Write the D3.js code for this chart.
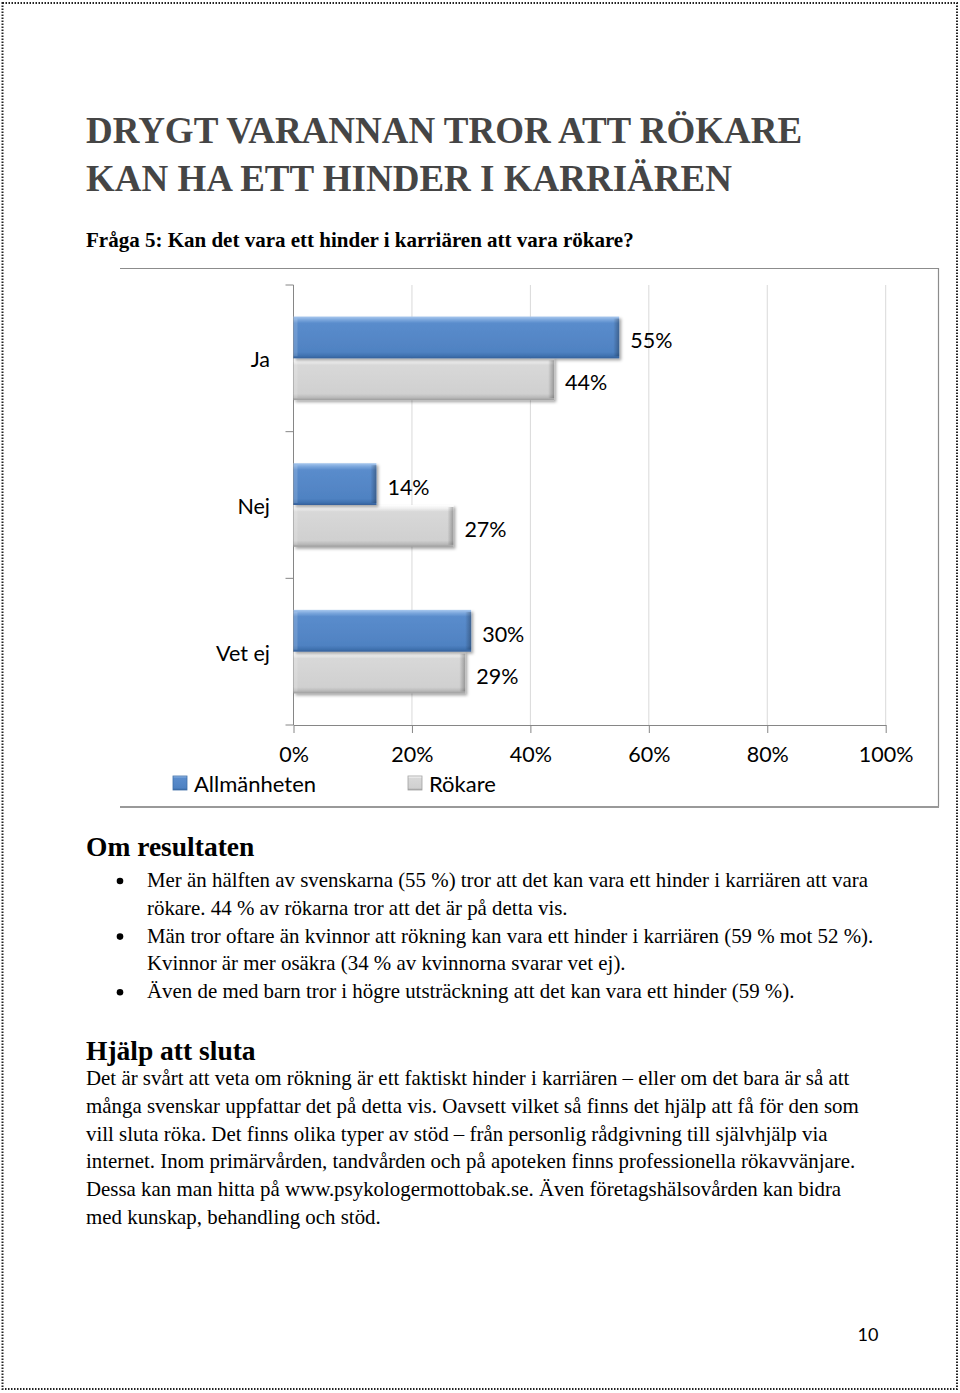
<!DOCTYPE html>
<html><head><meta charset="utf-8">
<script src="https://cdn.jsdelivr.net/npm/d3@7/dist/d3.min.js"></script>
<style>body{margin:0;background:#fff}svg{display:block}</style>
</head><body>
<script>
const categories = ["Ja", "Nej", "Vet ej"];
const seriesNames = ["Allmänheten", "Rökare"];
const allmanheten = [55, 14, 30];
const rokare = [44, 27, 29];
const xTicks = [0, 20, 40, 60, 80, 100];
const titleLines = ["DRYGT VARANNAN TROR ATT RÖKARE", "KAN HA ETT HINDER I KARRIÄREN"];
const question = "Fråga 5: Kan det vara ett hinder i karriären att vara rökare?";
const heading1 = "Om resultaten";
const bulletLines = [
  ["Mer än hälften av svenskarna (55 %) tror att det kan vara ett hinder i karriären att vara", "rökare. 44 % av rökarna tror att det är på detta vis."],
  ["Män tror oftare än kvinnor att rökning kan vara ett hinder i karriären (59 % mot 52 %).", "Kvinnor är mer osäkra (34 % av kvinnorna svarar vet ej)."],
  ["Även de med barn tror i högre utsträckning att det kan vara ett hinder (59 %)."]
];
const heading2 = "Hjälp att sluta";
const paraLines = [
  "Det är svårt att veta om rökning är ett faktiskt hinder i karriären – eller om det bara är så att",
  "många svenskar uppfattar det på detta vis. Oavsett vilket så finns det hjälp att få för den som",
  "vill sluta röka. Det finns olika typer av stöd – från personlig rådgivning till självhjälp via",
  "internet. Inom primärvården, tandvården och på apoteken finns professionella rökavvänjare.",
  "Dessa kan man hitta på www.psykologermottobak.se. Även företagshälsovården kan bidra",
  "med kunskap, behandling och stöd."
];
const pageNumber = "10";

const W = 960, H = 1393;
const serif = "'Liberation Serif','Times New Roman',serif";
const sans = "Lato,'Noto Sans',sans-serif";

const svg = d3.select("body").append("svg").attr("width", W).attr("height", H);
const defs = svg.append("defs");

function grad(id, stops) {
  const g = defs.append("linearGradient").attr("id", id).attr("x1", 0).attr("y1", 0).attr("x2", 0).attr("y2", 1);
  stops.forEach(s => g.append("stop").attr("offset", s[0]).attr("stop-color", s[1]));
}
grad("gBlue", [[0, "#a9c8ee"], [0.08, "#7aa6dc"], [0.16, "#5a8ccc"], [0.85, "#4f82c2"], [0.94, "#4072b0"], [1, "#35609a"]]);
grad("gGray", [[0, "#ffffff"], [0.08, "#f0f0f0"], [0.16, "#d8d8d8"], [0.85, "#d0d0d0"], [0.94, "#b8b8b8"], [1, "#9c9c9c"]]);
const hr = defs.append("linearGradient").attr("id", "gEdge").attr("x1", 0).attr("x2", 1).attr("y1", 0).attr("y2", 0);
hr.append("stop").attr("offset", 0).attr("stop-color", "#000").attr("stop-opacity", 0);
hr.append("stop").attr("offset", 1).attr("stop-color", "#000").attr("stop-opacity", 0.28);
const f = defs.append("filter").attr("id", "shadow").attr("x", "-10%").attr("y", "-20%").attr("width", "130%").attr("height", "160%");
f.append("feDropShadow").attr("dx", 2).attr("dy", 2).attr("stdDeviation", 1.5).attr("flood-color", "#000").attr("flood-opacity", 0.35);

// page border
svg.append("rect").attr("x", 2.5).attr("y", 3).attr("width", 954.5).attr("height", 1386)
  .attr("fill", "none").attr("stroke", "#222").attr("stroke-width", 2).attr("stroke-dasharray", "1.5,1.5");

// title
titleLines.forEach((t, i) => {
  svg.append("text").attr("x", 86).attr("y", 143 + i * 48).text(t)
    .attr("font-family", serif).attr("font-weight", "bold").attr("font-size", 37).attr("fill", "#454545");
});
svg.append("text").attr("x", 86).attr("y", 247).text(question)
  .attr("font-family", serif).attr("font-weight", "bold").attr("font-size", 21).attr("fill", "#000");

// chart frame
const frame = svg.append("g").attr("fill", "none");
frame.append("path").attr("d", "M120,268.5H938.5V807").attr("stroke", "#8c8c8c").attr("stroke-width", 1.2);
frame.append("path").attr("d", "M120,807H939").attr("stroke", "#999").attr("stroke-width", 2.2);

// scales
const x = d3.scaleLinear().domain([0, 100]).range([293.5, 885.7]);
const y = d3.scaleBand().domain(categories).range([285, 725]).paddingInner(0.43).paddingOuter(0.215);
const y1 = d3.scaleBand().domain(seriesNames).range([0, y.bandwidth()]);
const axisColor = "#868686";

// gridlines
svg.append("g").selectAll("line").data(xTicks.slice(1)).join("line")
  .attr("x1", d => x(d)).attr("x2", d => x(d)).attr("y1", 285).attr("y2", 725)
  .attr("stroke", "#d9d9d9").attr("stroke-width", 1);

// x axis
const xAxis = svg.append("g").attr("transform", "translate(0,725)")
  .call(d3.axisBottom(x).tickValues(xTicks).tickFormat(d => d + "%").tickSize(8).tickPadding(14).tickSizeOuter(0));
xAxis.select(".domain").attr("stroke", axisColor);
xAxis.selectAll(".tick line").attr("stroke", axisColor);
xAxis.selectAll(".tick text").attr("font-family", sans).attr("font-size", 21.5).attr("fill", "#000");

// y axis with ticks at category boundaries
const yAxis = svg.append("g").attr("transform", "translate(293.5,0)");
yAxis.append("line").attr("x1", 0).attr("x2", 0).attr("y1", 285).attr("y2", 725).attr("stroke", axisColor);
const [r0, r1] = y.range();
yAxis.selectAll("line.tk").data(d3.range(categories.length + 1)).join("line").attr("class", "tk")
  .attr("x1", -8).attr("x2", 0)
  .attr("y1", i => r0 + i * (r1 - r0) / categories.length)
  .attr("y2", i => r0 + i * (r1 - r0) / categories.length)
  .attr("stroke", axisColor);
svg.append("g").selectAll("text").data(categories).join("text")
  .attr("x", 270).attr("y", d => y(d) + y.bandwidth() / 2 + 1)
  .attr("text-anchor", "end").attr("dominant-baseline", "central")
  .attr("font-family", sans).attr("font-size", 21.5).attr("fill", "#000").text(d => d);

// bars
const rows = [];
categories.forEach((c, i) => {
  rows.push({ cat: c, series: seriesNames[0], v: allmanheten[i], fill: "url(#gBlue)" });
  rows.push({ cat: c, series: seriesNames[1], v: rokare[i], fill: "url(#gGray)" });
});
const bars = svg.append("g");
rows.slice().reverse().forEach(d => {
  const g = bars.append("g");
  const bx = x(0), by = y(d.cat) + y1(d.series), bw = x(d.v) - x(0), bh = y1.bandwidth();
  g.append("rect").attr("x", bx).attr("y", by).attr("width", bw).attr("height", bh)
    .attr("fill", d.fill).attr("filter", "url(#shadow)");
  g.append("rect").attr("x", bx + bw - 6).attr("y", by + 2).attr("width", 6).attr("height", bh - 4)
    .attr("fill", "url(#gEdge)");
  g.append("rect").attr("x", bx).attr("y", by + 2).attr("width", 4).attr("height", bh - 4)
    .attr("fill", "#fff").attr("opacity", 0.15);
});
svg.append("g").selectAll("text").data(rows).join("text")
  .attr("x", d => x(d.v) + 11).attr("y", d => y(d.cat) + y1(d.series) + y1.bandwidth() / 2 + 3)
  .attr("dominant-baseline", "central")
  .attr("font-family", sans).attr("font-size", 21.5).attr("fill", "#000").text(d => d.v + "%");

// legend
const legendX = [173, 408];
const legend = svg.append("g").selectAll("g").data(seriesNames).join("g")
  .attr("transform", (d, i) => `translate(${legendX[i]},776)`);
legend.append("rect").attr("width", 14).attr("height", 14)
  .attr("fill", (d, i) => i === 0 ? "url(#gBlue)" : "url(#gGray)")
  .attr("stroke", (d, i) => i === 0 ? "#3f6fa8" : "#a0a0a0").attr("stroke-width", 0.8);
legend.append("text").attr("x", 21).attr("y", 7).attr("dominant-baseline", "central")
  .attr("font-family", sans).attr("font-size", 22).attr("fill", "#000").text(d => d);

// body text
const body = svg.append("g").attr("font-family", serif).attr("fill", "#000");
body.append("text").attr("x", 86).attr("y", 856).attr("font-weight", "bold").attr("font-size", 27.5).text(heading1);
let ly = 887;
bulletLines.forEach(lines => {
  body.append("circle").attr("cx", 120).attr("cy", ly - 6).attr("r", 3.3).attr("fill", "#000");
  lines.forEach(l => {
    body.append("text").attr("x", 147).attr("y", ly).attr("font-size", 20.9).text(l);
    ly += 27.8;
  });
});
body.append("text").attr("x", 86).attr("y", 1060).attr("font-weight", "bold").attr("font-size", 27.5).text(heading2);
paraLines.forEach((l, i) => {
  body.append("text").attr("x", 86).attr("y", 1085 + i * 27.8).attr("font-size", 20.9).text(l);
});

svg.append("text").attr("x", 868).attr("y", 1341).attr("text-anchor", "middle")
  .attr("font-family", sans).attr("font-size", 18).attr("fill", "#000").text(pageNumber);
</script>
</body></html>
